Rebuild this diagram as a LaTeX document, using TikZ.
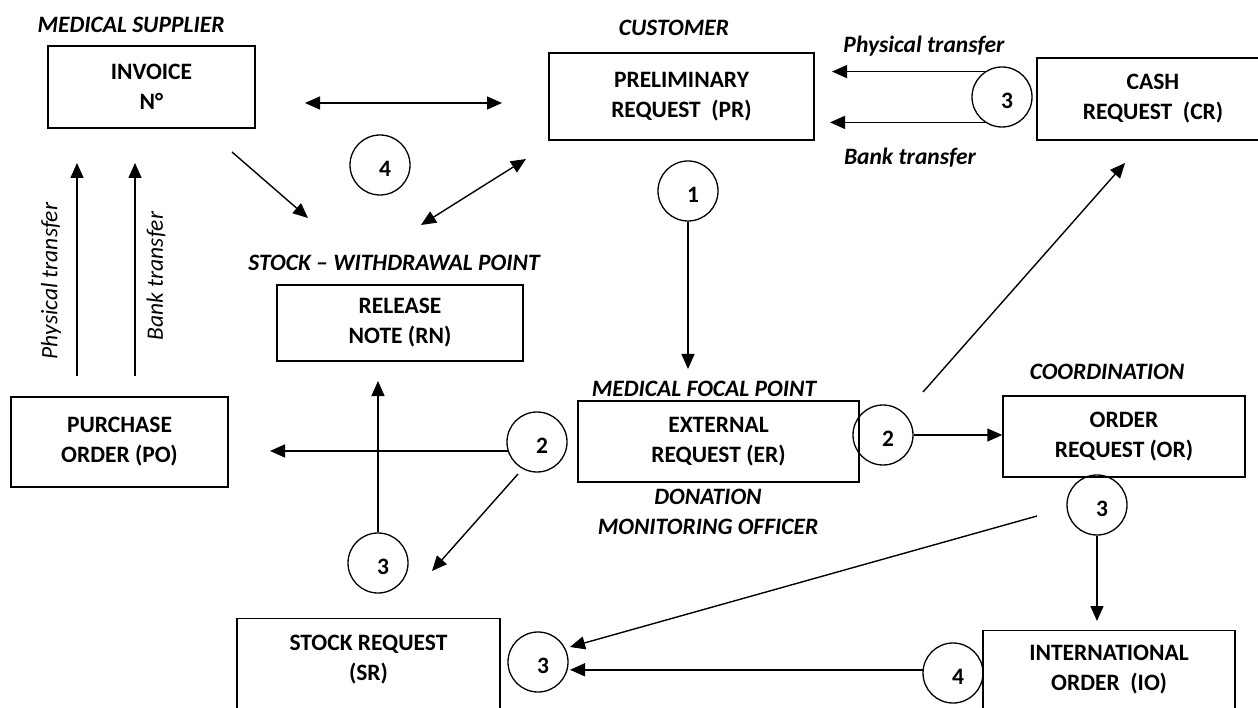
\documentclass[tikz,border=0pt]{standalone}
\usepackage{fontspec}
\setmainfont{Carlito}
\usetikzlibrary{arrows.meta,calc}
\newcommand\boxfnt{\fontsize{23.5}{30}\selectfont\bfseries}
\newcommand\lblfnt{\fontsize{23.5}{30}\selectfont\bfseries\itshape}
\newcommand\itlfnt{\fontsize{23.5}{30}\selectfont\itshape}
\begin{document}
\begin{tikzpicture}[x=1pt,y=-1pt,
  box/.style={draw, line width=1.4pt, align=center, font=\boxfnt, inner sep=0pt},
  boxtxt/.style={align=center, font=\boxfnt, inner sep=0pt},
  lbl/.style={font=\lblfnt, inner sep=0pt, align=center},
  itl/.style={font=\itlfnt, inner sep=0pt},
  numc/.style={draw, circle, line width=1.3pt, minimum size=60pt, inner sep=0pt},
  numl/.style={font=\boxfnt, inner sep=0pt, xshift=5pt, yshift=-4pt},
  arr/.style={line width=1.4pt, -{Triangle[length=15pt,width=13pt]}},
  darr/.style={line width=1.4pt, {Triangle[length=15pt,width=13pt]}-{Triangle[length=15pt,width=13pt]}}
]
\path[use as bounding box, fill=white] (0,0) rectangle (1258,708);

% boxes
\node[box, minimum width=207pt, minimum height=82pt] (inv) at (151.5,87) {INVOICE\\N°};
\node[box, minimum width=265pt, minimum height=87pt] (pr) at (681.5,96.5) {PRELIMINARY\\REQUEST\ \ (PR)};
\node[box, minimum width=232pt, minimum height=82pt] (cr) at (1153,99) {CASH\\REQUEST\ \ (CR)};
\node[box, minimum width=246pt, minimum height=76pt] (rn) at (400,323) {RELEASE\\NOTE (RN)};
\node[box, minimum width=217pt, minimum height=90pt] (po) at (119.5,442) {PURCHASE\\ORDER (PO)};
\node[box, minimum width=281pt, minimum height=81pt] (er) at (718.5,441.5) {EXTERNAL\\REQUEST (ER)};
\node[box, minimum width=242pt, minimum height=81pt] (or) at (1124,436.5) {ORDER\\REQUEST (OR)};
\node[box, minimum width=263pt, minimum height=120pt, anchor=north] (sr) at (368.5,618) {};
\node[boxtxt] (srt) at ([yshift=-41.5pt]sr.north) {STOCK REQUEST\\(SR)};
\node[box, minimum width=252pt, minimum height=120pt, anchor=north] (io) at (1109,630) {};
\node[boxtxt] (iot) at ([yshift=-40pt]io.north) {INTERNATIONAL\\ORDER\ \ (IO)};

% circles
\node[numc, label={[numl]center:4}] (c4) at (380,165) {};
\node[numc, label={[numl]center:3}] (c3t) at (1002,97) {};
\node[numc, label={[numl]center:1}] (c1) at (688,191) {};
\node[numc, label={[numl]center:2}] (c2l) at (537,442) {};
\node[numc, label={[numl]center:2}] (c2r) at (883,435) {};
\node[numc, label={[numl]center:3}] (c3l) at (378,563) {};
\node[numc, label={[numl]center:3}] (c3or) at (1097,505) {};
\node[numc, label={[numl]center:3}] (c3sr) at (538,662) {};
\node[numc, label={[numl]center:4}] (c4b) at (953,673) {};

% labels
\node[lbl] (lms) at (131,25) {MEDICAL SUPPLIER};
\node[lbl] (lcu) at (674,28) {CUSTOMER};
\node[lbl] (lpt) at (924,46) {Physical transfer};
\node[lbl] (lbt) at (910,158) {Bank transfer};
\node[lbl] (lsw) at (394,263) {STOCK – WITHDRAWAL POINT};
\node[lbl] (lmf) at (704,389) {MEDICAL FOCAL POINT};
\node[lbl] (ldo) at (708,511.5) {DONATION\\MONITORING OFFICER};
\node[lbl] (lco) at (1107,372) {COORDINATION};
\node[itl, rotate=90] (lvp) at (51,281) {Physical transfer};
\node[itl, rotate=90] (lvb) at (156,276) {Bank transfer};

% free ends
\coordinate (p1) at (305,103);
\coordinate (p2) at (502,103);
\coordinate (p3) at (232,152);
\coordinate (p4) at (308,218);
\coordinate (p5) at (421,225);
\coordinate (p6) at (526,159);
\coordinate (p7) at (832,72);
\coordinate (p8) at (830,124);
\coordinate (p9) at (688,369);
\coordinate (p10) at (923,392);
\coordinate (p11) at (1125,163);
\coordinate (p12) at (270,451);
\coordinate (p13) at (518,474);
\coordinate (p14) at (432,571);
\coordinate (p15) at (378,381);
\coordinate (p16) at (77,376);
\coordinate (p17) at (77,163);
\coordinate (p18) at (135,376);
\coordinate (p19) at (135,163);
\coordinate (p20) at (1097,621);
\coordinate (p21) at (1037,516);
\coordinate (p22) at (570,647);
\coordinate (p23) at (570,670);

% connectors
\draw[darr] (p1) -- (p2);
\draw[arr] (p3) -- (p4);
\draw[darr] (p5) -- (p6);
\draw[arr] (c3t.124) -- (c3t.124 -| p7);
\draw[arr] (c3t.236) -- (c3t.236 -| p8);
\draw[arr] (c1.south) -- (p9);
\draw[arr] (p10) -- (p11);
\draw[arr] (c2r.east) -- (c2r.east -| or.west);
\draw[arr] (c2l.197) -- (c2l.197 -| p12);
\draw[arr] (p13) -- (p14);
\draw[arr] (c3l.north) -- (c3l.north |- p15);
\draw[arr] (p16) -- (p17);
\draw[arr] (p18) -- (p19);
\draw[arr] (c3or.south) -- (c3or.south |- p20);
\draw[arr] (p21) -- (p22);
\draw[arr] (c4b.174) -- (c4b.174 -| p23);
\end{tikzpicture}
\end{document}
